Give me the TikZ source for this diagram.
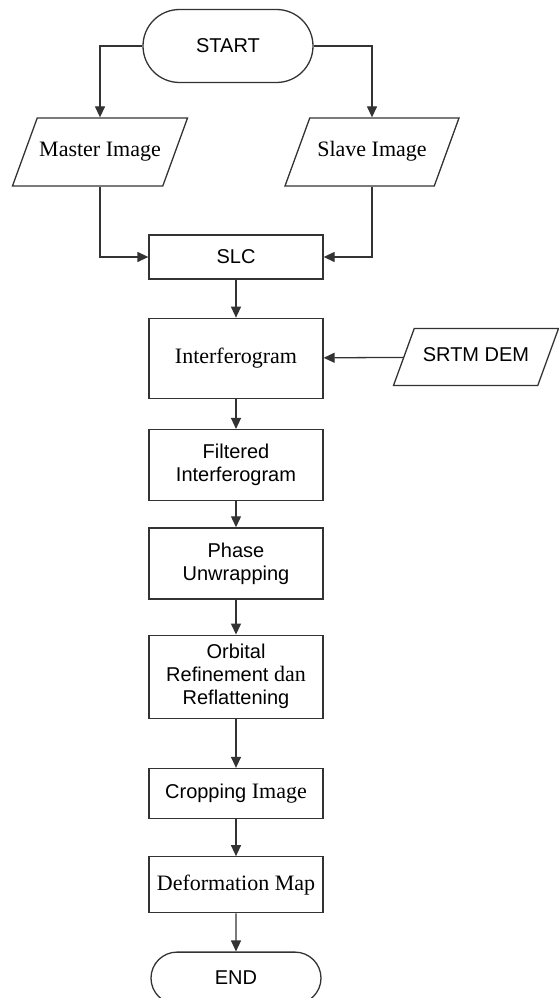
\documentclass[tikz,border=0pt]{standalone}
\usepackage{fontspec}
\setmainfont{Liberation Serif}
\setsansfont{Liberation Sans}
\usetikzlibrary{arrows.meta,positioning,shapes.geometric,shapes.misc}
\newcommand{\serif}{\rmfamily\fontsize{22}{24}\selectfont}

\begin{document}
\begin{tikzpicture}[
  x=1pt, y=1pt,
  font=\sffamily\fontsize{20}{23}\selectfont,
  line width=1.3pt,
  terminal/.style={
    draw=black!80,
    rounded rectangle,
    minimum width=174pt,
    minimum height=73pt,
    inner sep=2pt
  },
  process/.style={
    draw=black!80,
    align=center,
    minimum width=174pt,
    inner sep=3pt
  },
  io/.style={
    draw=black!80,
    trapezium,
    trapezium left angle=70,
    trapezium right angle=110,
    trapezium stretches body=true,
    minimum width=174pt,
    text height=14pt,
    text depth=5pt,
    inner xsep=2pt,
    inner ysep=24.5pt
  },
  arrow/.style={draw=black!80,-{Triangle[length=11pt,width=10pt]}}
]
\useasboundingbox (0,0) rectangle (558,-998);

\node[terminal] (start) at (228,-46) {START};
\node[io] (master) at (100,-152) {\serif Master Image};
\node[io] (slave) at (372,-152) {\serif Slave Image};
\node[process, minimum height=44pt] (slc) at (236,-257) {SLC};
\node[process, minimum height=80pt, below=38pt of slc] (interf) {\serif Interferogram};
\node[io, minimum width=165pt, inner ysep=19pt] (srtm) at (476,-357) {SRTM DEM};
\node[process, minimum height=71pt, below=30pt of interf] (filtered) {Filtered\\Interferogram};
\node[process, minimum height=71pt, below=26pt of filtered] (phase) {Phase\\Unwrapping};
\node[process, minimum height=83pt, below=35pt of phase] (orbital) {Orbital\\Refinement {\serif dan}\\Reflattening};
\node[process, minimum height=50pt, below=49pt of orbital] (crop) {Cropping {\serif Image}};
\node[process, minimum height=56pt, below=37pt of crop] (defmap) {\serif Deformation Map};
\node[terminal, minimum height=52pt, below=38pt of defmap] (end) {END};

\draw[arrow] (start) -| (master);
\draw[arrow] (start) -| (slave);
\draw[arrow] (master) |- (slc);
\draw[arrow] (slave) |- (slc);
\draw[arrow] (slc) -- (interf);
\draw[arrow] (srtm) -- (interf);
\draw[arrow] (interf) -- (filtered);
\draw[arrow] (filtered) -- (phase);
\draw[arrow] (phase) -- (orbital);
\draw[arrow] (orbital) -- (crop);
\draw[arrow] (crop) -- (defmap);
\draw[arrow] (defmap) -- (end);
\end{tikzpicture}
\end{document}
